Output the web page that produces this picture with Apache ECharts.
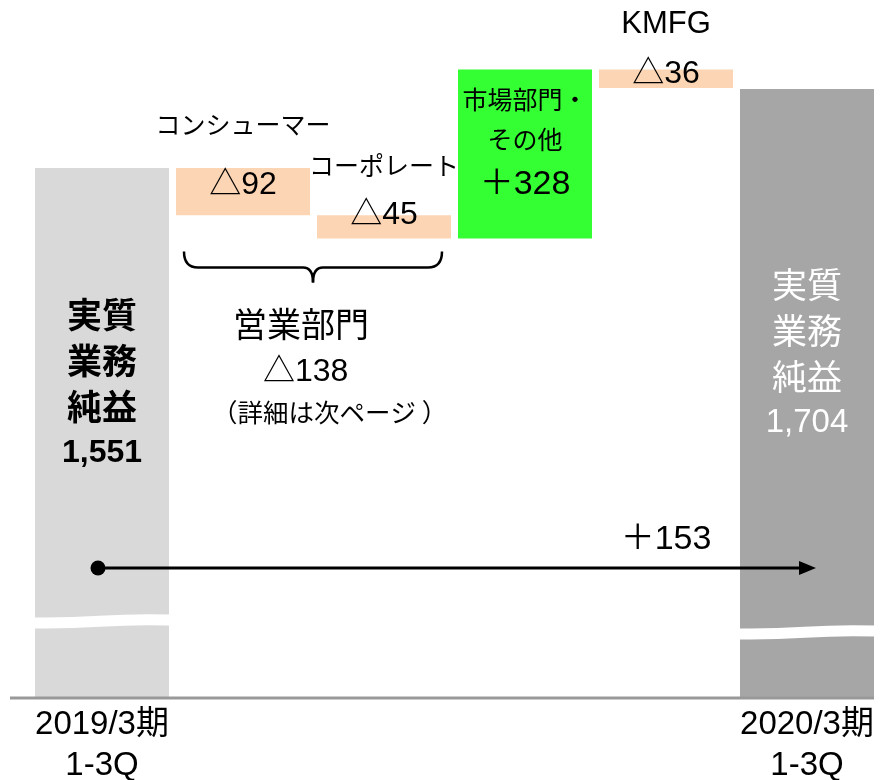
<!DOCTYPE html>
<html><head><meta charset="utf-8">
<script src="https://cdn.jsdelivr.net/npm/echarts@6/dist/echarts.min.js"></script>
<style>html,body{margin:0;padding:0;background:#fff}#c{width:892px;height:780px}</style>
</head><body><div id="c"></div>
<script>
// ---- data ----
const categories = ['2019/3期 1-3Q', 'コンシューマー', 'コーポレート', '市場部門・その他', 'KMFG', '2020/3期 1-3Q'];
const tickLabels = ['2019/3期\n1-3Q', '', '', '', '', '2020/3期\n1-3Q'];
const stepNames = ['コンシューマー', 'コーポレート', '市場部門・\nその他', 'KMFG'];
const startValue = 1551;
const stepDeltas = [-92, -45, 328, -36];
const endValue = 1704;
const totalTitle = ['実質', '業務', '純益'];
const groupTitle = '営業部門';
const groupDelta = -138;
const groupNote = '（詳細は次ページ ）';

// ---- derived ----
const bases = [0], heights = [startValue];
let run = startValue;
stepDeltas.forEach(d => { const nx = run + d; bases.push(Math.min(run, nx)); heights.push(Math.abs(d)); run = nx; });
bases.push(0); heights.push(endValue);
const fmtDelta = d => (d < 0 ? '△' : '＋') + Math.abs(d);
const fmtTotal = v => v.toLocaleString('en-US');

const CJK = "'Noto Sans CJK JP', sans-serif";
const NUM = "'Liberation Sans', 'Noto Sans CJK JP', sans-serif";
const NARROW = "'Liberation Sans Narrow', 'Liberation Sans', 'Noto Sans CJK JP', sans-serif";

const colStart = '#d9d9d9', colEnd = '#a6a6a6', colNeg = '#fcd5b4', colPos = '#33ff33';

function totalLabel(value, color, weight, top, numSize) {
  return {
    show: true, position: ['50%', top], align: 'center', verticalAlign: 'top',
    formatter: totalTitle.map(t => '{t|' + t + '}').join('\n') + '\n{n|' + fmtTotal(value) + '}',
    rich: {
      t: { fontSize: 35, fontWeight: weight, fontFamily: CJK, color: color, lineHeight: 46 },
      n: { fontSize: numSize, fontWeight: weight, fontFamily: NARROW, color: color, lineHeight: 46 }
    }
  };
}
// per-step label layout (style, not data)
const stepLabelLayout = [
  { top: -74, nameLH: 61, valLH: 61, nameFont: CJK, nameSize: 25 },
  { top: -75, nameLH: 50, valLH: 50, nameFont: CJK, nameSize: 25 },
  { top: 10, nameLH: 40, valLH: 50, nameFont: CJK, nameSize: 25 },
  { top: -70, nameLH: 50, valLH: 50, nameFont: NUM, nameSize: 31 }
];
function stepLabel(i) {
  const L = stepLabelLayout[i];
  const d = stepDeltas[i];
  const names = stepNames[i].split('\n').map(s => '{n|' + s + '}').join('\n');
  return {
    show: true, position: ['50%', L.top], align: 'center', verticalAlign: 'top',
    formatter: names + '\n{v|' + fmtDelta(d) + '}',
    rich: {
      n: { fontSize: L.nameSize, fontFamily: L.nameFont, color: '#000', lineHeight: L.nameLH },
      v: { fontSize: d > 0 ? 34 : 32, fontFamily: NUM, color: '#000', lineHeight: L.valLH }
    }
  };
}

const valueData = heights.map((h, i) => {
  let color, label;
  if (i === 0) { color = colStart; label = totalLabel(startValue, '#000', 'bold', 124, 32); }
  else if (i === heights.length - 1) { color = colEnd; label = totalLabel(endValue, '#fff', 'normal', 173, 33); }
  else { const d = stepDeltas[i - 1]; color = d < 0 ? colNeg : colPos; label = stepLabel(i - 1); }
  return { value: h, itemStyle: { color: color }, label: label };
});

const chart = echarts.init(document.getElementById('c'), null, { renderer: 'canvas' });
chart.setOption({
  animation: false,
  backgroundColor: '#fff',
  grid: { left: 31.5, width: 846, top: 0, bottom: 81, containLabel: false, outerBoundsMode: 'none' },
  xAxis: {
    type: 'category', data: categories,
    axisLine: { show: false }, axisTick: { show: false },
    axisLabel: {
      interval: 0, margin: 5, color: '#000', fontSize: 33, fontFamily: NUM, lineHeight: 41,
      formatter: (v, i) => tickLabels[i]
    }
  },
  yAxis: { type: 'value', min: 520, max: 1877, show: false, splitLine: { show: false } },
  series: [
    { type: 'bar', stack: 'w', data: bases, barWidth: 134, itemStyle: { color: 'transparent' }, silent: true },
    { type: 'bar', stack: 'w', data: valueData, barWidth: 134 }
  ]
});

// ---- annotations positioned from the axes ----
const px = (i, v) => chart.convertToPixel({ xAxisIndex: 0, yAxisIndex: 0 }, [i, v]);
const half = 67;
const gridBottom = px(0, 520)[1];
const cx = i => px(i, 1000)[0];

const g = [];
// axis line
g.push({ type: 'line', z: 100, shape: { x1: 10, y1: gridBottom - 1, x2: cx(5) + half, y2: gridBottom - 1 }, style: { stroke: '#999', lineWidth: 3 } });
// break marks
function breakMark(i, yc) {
  const xl = cx(i) - half - 1, xr = cx(i) + half + 1, w = xr - xl;
  g.push({ type: 'bezierCurve', z: 50, shape: { x1: xl, y1: yc + 2, cpx1: xl + w * 0.5, cpy1: yc + 3, cpx2: xl + w * 0.5, cpy2: yc - 3, x2: xr, y2: yc - 1 }, style: { stroke: '#fff', lineWidth: 11, fill: null } });
}
breakMark(0, gridBottom - 78);
breakMark(5, gridBottom - 67);

// bracket under operating segments
const run2 = startValue + stepDeltas[0] + stepDeltas[1];
const yTop = px(2, run2)[1] + 13;
const x0 = cx(1) - half + 8, x1 = cx(2) + half - 9, xm = (x0 + x1) / 2;
const yh = yTop + 16, yTip = yTop + 31;
const bracketStyle = { stroke: '#000', lineWidth: 2.5, fill: null };
g.push({ type: 'bezierCurve', z: 60, shape: { x1: x0, y1: yTop, cpx1: x0, cpy1: yh, x2: x0 + 14, y2: yh }, style: bracketStyle });
g.push({ type: 'line', z: 60, shape: { x1: x0 + 14, y1: yh, x2: xm - 10, y2: yh }, style: bracketStyle });
g.push({ type: 'bezierCurve', z: 60, shape: { x1: xm - 10, y1: yh, cpx1: xm, cpy1: yh, x2: xm, y2: yTip }, style: bracketStyle });
g.push({ type: 'bezierCurve', z: 60, shape: { x1: xm + 10, y1: yh, cpx1: xm, cpy1: yh, x2: xm, y2: yTip }, style: bracketStyle });
g.push({ type: 'line', z: 60, shape: { x1: xm + 10, y1: yh, x2: x1 - 14, y2: yh }, style: bracketStyle });
g.push({ type: 'bezierCurve', z: 60, shape: { x1: x1 - 14, y1: yh, cpx1: x1, cpy1: yh, x2: x1, y2: yTop }, style: bracketStyle });

g.push({ type: 'text', z: 60, style: { x: xm - 80, y: yTip + 42, text: groupTitle, fontSize: 34, fontFamily: CJK, fill: '#000', align: 'left', verticalAlign: 'middle' } });
g.push({ type: 'text', z: 60, style: { x: xm - 50, y: yTip + 90, text: fmtDelta(groupDelta), fontSize: 32, fontFamily: NUM, fill: '#000', align: 'left', verticalAlign: 'middle' } });
g.push({ type: 'text', z: 60, style: { x: xm - 101, y: yTip + 130, text: groupNote, fontSize: 25.5, fontFamily: CJK, fill: '#000', align: 'left', verticalAlign: 'middle' } });

// arrow start -> end
const arrowY = gridBottom - 131;
const ax0 = cx(0) - 4, ax1 = cx(5) + 9;
g.push({ type: 'line', z: 60, shape: { x1: ax0, y1: arrowY, x2: ax1 - 12, y2: arrowY }, style: { stroke: '#000', lineWidth: 3 } });
g.push({ type: 'circle', z: 60, shape: { cx: ax0, cy: arrowY, r: 7.5 }, style: { fill: '#000' } });
g.push({ type: 'polygon', z: 60, shape: { points: [[ax1 - 17, arrowY - 7], [ax1, arrowY], [ax1 - 17, arrowY + 7]] }, style: { fill: '#000' } });
g.push({ type: 'text', z: 60, style: { x: cx(4), y: arrowY - 28, text: fmtDelta(endValue - startValue), fontSize: 34, fontFamily: NUM, fill: '#000', align: 'center', verticalAlign: 'middle' } });

chart.setOption({ graphic: g });
</script></body></html>
